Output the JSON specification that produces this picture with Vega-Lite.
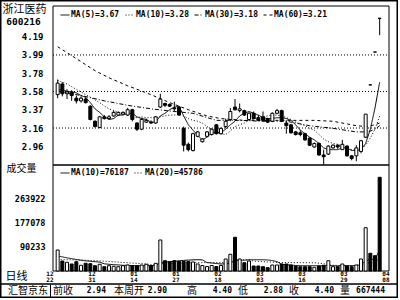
{
  "$schema": "https://vega.github.io/schema/vega-lite/v6.json",
  "width": 398,
  "height": 298,
  "autosize": "none",
  "padding": 0,
  "background": "white",
  "config": {
    "view": {"stroke": "black", "strokeWidth": 3},
    "axis": {"labelFont": "DejaVu Sans Mono", "labelFontWeight": "bold", "labelColor": "black", "domainColor": "black", "ticks": false, "tickSize": 0, "grid": false, "titleColor": "black", "titleFont": "Noto Sans CJK SC", "titleFontWeight": "normal"},
    "legend": {"labelFont": "DejaVu Sans Mono", "labelFontWeight": "bold", "labelColor": "black", "padding": 0}
  },
  "datasets": {
    "k": [
      {"i":0,"o":3.54,"h":3.71,"l":3.50,"c":3.67,"v":76700},
      {"i":1,"o":3.66,"h":3.68,"l":3.52,"c":3.55,"v":36500},
      {"i":2,"o":3.55,"h":3.60,"l":3.49,"c":3.57,"v":31800},
      {"i":3,"o":3.57,"h":3.59,"l":3.47,"c":3.53,"v":25600},
      {"i":4,"o":3.50,"h":3.53,"l":3.44,"c":3.47,"v":34000},
      {"i":5,"o":3.47,"h":3.52,"l":3.45,"c":3.50,"v":20800},
      {"i":6,"o":3.49,"h":3.51,"l":3.44,"c":3.45,"v":28100},
      {"i":7,"o":3.41,"h":3.42,"l":3.25,"c":3.26,"v":26700},
      {"i":8,"o":3.24,"h":3.25,"l":3.17,"c":3.18,"v":19400},
      {"i":9,"o":3.17,"h":3.30,"l":3.16,"c":3.29,"v":24500},
      {"i":10,"o":3.29,"h":3.31,"l":3.26,"c":3.27,"v":15700},
      {"i":11,"o":3.27,"h":3.31,"l":3.26,"c":3.29,"v":19400},
      {"i":12,"o":3.30,"h":3.36,"l":3.29,"c":3.34,"v":17200},
      {"i":13,"o":3.31,"h":3.35,"l":3.30,"c":3.34,"v":15700},
      {"i":14,"o":3.32,"h":3.35,"l":3.31,"c":3.34,"v":19400},
      {"i":15,"o":3.31,"h":3.39,"l":3.30,"c":3.37,"v":21900},
      {"i":16,"o":3.37,"h":3.38,"l":3.24,"c":3.26,"v":19400},
      {"i":17,"o":3.22,"h":3.23,"l":3.13,"c":3.15,"v":19400},
      {"i":18,"o":3.15,"h":3.28,"l":3.14,"c":3.26,"v":21900},
      {"i":19,"o":3.23,"h":3.27,"l":3.22,"c":3.25,"v":24500},
      {"i":20,"o":3.23,"h":3.25,"l":3.21,"c":3.22,"v":19400},
      {"i":21,"o":3.22,"h":3.30,"l":3.21,"c":3.29,"v":28100},
      {"i":22,"o":3.40,"h":3.55,"l":3.39,"c":3.49,"v":113300},
      {"i":23,"o":3.44,"h":3.45,"l":3.40,"c":3.42,"v":37600},
      {"i":24,"o":3.43,"h":3.44,"l":3.40,"c":3.41,"v":34000},
      {"i":25,"o":3.39,"h":3.46,"l":3.35,"c":3.38,"v":37600},
      {"i":26,"o":3.40,"h":3.41,"l":3.30,"c":3.31,"v":34700},
      {"i":27,"o":3.16,"h":3.18,"l":2.90,"c":2.97,"v":34700},
      {"i":28,"o":2.98,"h":3.00,"l":2.90,"c":2.92,"v":34700},
      {"i":29,"o":2.91,"h":3.11,"l":2.90,"c":3.10,"v":32900},
      {"i":30,"o":3.07,"h":3.13,"l":3.06,"c":3.12,"v":25600},
      {"i":31,"o":3.01,"h":3.05,"l":3.00,"c":3.04,"v":20100},
      {"i":32,"o":3.07,"h":3.13,"l":3.06,"c":3.12,"v":16400},
      {"i":33,"o":3.09,"h":3.16,"l":3.08,"c":3.15,"v":20100},
      {"i":34,"o":3.20,"h":3.21,"l":3.09,"c":3.10,"v":16400},
      {"i":35,"o":3.10,"h":3.17,"l":3.09,"c":3.16,"v":20100},
      {"i":36,"o":3.18,"h":3.27,"l":3.16,"c":3.24,"v":43800},
      {"i":37,"o":3.26,"h":3.39,"l":3.24,"c":3.35,"v":61000},
      {"i":38,"o":3.40,"h":3.49,"l":3.36,"c":3.37,"v":123100},
      {"i":39,"o":3.36,"h":3.44,"l":3.34,"c":3.38,"v":43800},
      {"i":40,"o":3.36,"h":3.37,"l":3.30,"c":3.31,"v":30300},
      {"i":41,"o":3.26,"h":3.34,"l":3.25,"c":3.33,"v":36500},
      {"i":42,"o":3.33,"h":3.35,"l":3.26,"c":3.27,"v":18300},
      {"i":43,"o":3.28,"h":3.31,"l":3.24,"c":3.25,"v":18300},
      {"i":44,"o":3.29,"h":3.35,"l":3.24,"c":3.25,"v":15700},
      {"i":45,"o":3.27,"h":3.28,"l":3.22,"c":3.23,"v":12100},
      {"i":46,"o":3.24,"h":3.34,"l":3.23,"c":3.33,"v":21900},
      {"i":47,"o":3.33,"h":3.38,"l":3.32,"c":3.36,"v":21900},
      {"i":48,"o":3.36,"h":3.37,"l":3.23,"c":3.24,"v":25600},
      {"i":49,"o":3.22,"h":3.25,"l":3.10,"c":3.19,"v":25600},
      {"i":50,"o":3.20,"h":3.21,"l":3.10,"c":3.11,"v":21900},
      {"i":51,"o":3.12,"h":3.13,"l":3.08,"c":3.09,"v":18300},
      {"i":52,"o":3.11,"h":3.14,"l":3.07,"c":3.09,"v":15700},
      {"i":53,"o":3.10,"h":3.11,"l":3.02,"c":3.03,"v":15700},
      {"i":54,"o":3.05,"h":3.06,"l":2.96,"c":2.97,"v":15700},
      {"i":55,"o":2.95,"h":3.00,"l":2.94,"c":2.99,"v":13500},
      {"i":56,"o":2.99,"h":3.00,"l":2.85,"c":2.86,"v":18300},
      {"i":57,"o":2.86,"h":2.92,"l":2.75,"c":2.84,"v":20800},
      {"i":58,"o":2.87,"h":2.97,"l":2.86,"c":2.96,"v":37600},
      {"i":59,"o":2.94,"h":2.98,"l":2.93,"c":2.97,"v":15700},
      {"i":60,"o":2.97,"h":2.98,"l":2.93,"c":2.95,"v":15700},
      {"i":61,"o":2.92,"h":3.03,"l":2.92,"c":2.98,"v":25600},
      {"i":62,"o":2.96,"h":2.97,"l":2.84,"c":2.85,"v":18300},
      {"i":63,"o":2.85,"h":2.86,"l":2.80,"c":2.82,"v":15700},
      {"i":64,"o":2.85,"h":2.97,"l":2.79,"c":2.94,"v":21900},
      {"i":65,"o":2.90,"h":3.03,"l":2.88,"c":3.02,"v":43800},
      {"i":66,"o":3.06,"h":3.32,"l":3.05,"c":3.32,"v":158200},
      {"i":67,"o":3.65,"h":3.65,"l":3.65,"c":3.65,"v":64700},
      {"i":68,"o":4.02,"h":4.02,"l":4.02,"c":4.02,"v":55900},
      {"i":69,"o":4.40,"h":4.40,"l":4.21,"c":4.40,"v":342400}
    ],
    "ma": [
      {"i":0,"s":"MA5","v":3.60},{"i":1,"s":"MA5","v":3.59},{"i":2,"s":"MA5","v":3.58},{"i":3,"s":"MA5","v":3.57},{"i":4,"s":"MA5","v":3.56},
      {"i":5,"s":"MA5","v":3.53},{"i":6,"s":"MA5","v":3.51},{"i":7,"s":"MA5","v":3.45},{"i":8,"s":"MA5","v":3.38},{"i":9,"s":"MA5","v":3.34},
      {"i":10,"s":"MA5","v":3.29},{"i":11,"s":"MA5","v":3.26},{"i":12,"s":"MA5","v":3.27},{"i":13,"s":"MA5","v":3.31},{"i":14,"s":"MA5","v":3.31},
      {"i":15,"s":"MA5","v":3.33},{"i":16,"s":"MA5","v":3.33},{"i":17,"s":"MA5","v":3.29},{"i":18,"s":"MA5","v":3.27},{"i":19,"s":"MA5","v":3.26},
      {"i":20,"s":"MA5","v":3.23},{"i":21,"s":"MA5","v":3.23},{"i":22,"s":"MA5","v":3.30},{"i":23,"s":"MA5","v":3.33},{"i":24,"s":"MA5","v":3.37},
      {"i":25,"s":"MA5","v":3.40},{"i":26,"s":"MA5","v":3.41},{"i":27,"s":"MA5","v":3.30},{"i":28,"s":"MA5","v":3.20},{"i":29,"s":"MA5","v":3.14},
      {"i":30,"s":"MA5","v":3.08},{"i":31,"s":"MA5","v":3.03},{"i":32,"s":"MA5","v":3.06},{"i":33,"s":"MA5","v":3.11},{"i":34,"s":"MA5","v":3.11},
      {"i":35,"s":"MA5","v":3.11},{"i":36,"s":"MA5","v":3.15},{"i":37,"s":"MA5","v":3.20},{"i":38,"s":"MA5","v":3.24},{"i":39,"s":"MA5","v":3.30},
      {"i":40,"s":"MA5","v":3.33},{"i":41,"s":"MA5","v":3.35},{"i":42,"s":"MA5","v":3.33},{"i":43,"s":"MA5","v":3.31},{"i":44,"s":"MA5","v":3.28},
      {"i":45,"s":"MA5","v":3.27},{"i":46,"s":"MA5","v":3.27},{"i":47,"s":"MA5","v":3.28},{"i":48,"s":"MA5","v":3.28},{"i":49,"s":"MA5","v":3.27},
      {"i":50,"s":"MA5","v":3.25},{"i":51,"s":"MA5","v":3.20},{"i":52,"s":"MA5","v":3.14},{"i":53,"s":"MA5","v":3.10},{"i":54,"s":"MA5","v":3.06},
      {"i":55,"s":"MA5","v":3.03},{"i":56,"s":"MA5","v":2.99},{"i":57,"s":"MA5","v":2.94},{"i":58,"s":"MA5","v":2.92},{"i":59,"s":"MA5","v":2.92},
      {"i":60,"s":"MA5","v":2.92},{"i":61,"s":"MA5","v":2.94},{"i":62,"s":"MA5","v":2.94},{"i":63,"s":"MA5","v":2.91},{"i":64,"s":"MA5","v":2.91},
      {"i":65,"s":"MA5","v":2.92},{"i":66,"s":"MA5","v":2.99},{"i":67,"s":"MA5","v":3.15},{"i":68,"s":"MA5","v":3.39},{"i":69,"s":"MA5","v":3.68},
      {"i":0,"s":"MA10","v":3.70},{"i":1,"s":"MA10","v":3.68},{"i":2,"s":"MA10","v":3.66},{"i":3,"s":"MA10","v":3.63},{"i":4,"s":"MA10","v":3.60},
      {"i":5,"s":"MA10","v":3.57},{"i":6,"s":"MA10","v":3.54},{"i":7,"s":"MA10","v":3.51},{"i":8,"s":"MA10","v":3.48},{"i":9,"s":"MA10","v":3.45},
      {"i":10,"s":"MA10","v":3.41},{"i":11,"s":"MA10","v":3.38},{"i":12,"s":"MA10","v":3.36},{"i":13,"s":"MA10","v":3.34},{"i":14,"s":"MA10","v":3.32},
      {"i":15,"s":"MA10","v":3.31},{"i":16,"s":"MA10","v":3.29},{"i":17,"s":"MA10","v":3.28},{"i":18,"s":"MA10","v":3.29},{"i":19,"s":"MA10","v":3.28},
      {"i":20,"s":"MA10","v":3.28},{"i":21,"s":"MA10","v":3.28},{"i":22,"s":"MA10","v":3.29},{"i":23,"s":"MA10","v":3.30},{"i":24,"s":"MA10","v":3.31},
      {"i":25,"s":"MA10","v":3.31},{"i":26,"s":"MA10","v":3.32},{"i":27,"s":"MA10","v":3.30},{"i":28,"s":"MA10","v":3.27},{"i":29,"s":"MA10","v":3.25},
      {"i":30,"s":"MA10","v":3.24},{"i":31,"s":"MA10","v":3.22},{"i":32,"s":"MA10","v":3.18},{"i":33,"s":"MA10","v":3.15},{"i":34,"s":"MA10","v":3.12},
      {"i":35,"s":"MA10","v":3.10},{"i":36,"s":"MA10","v":3.09},{"i":37,"s":"MA10","v":3.13},{"i":38,"s":"MA10","v":3.18},{"i":39,"s":"MA10","v":3.20},
      {"i":40,"s":"MA10","v":3.22},{"i":41,"s":"MA10","v":3.25},{"i":42,"s":"MA10","v":3.27},{"i":43,"s":"MA10","v":3.28},{"i":44,"s":"MA10","v":3.29},
      {"i":45,"s":"MA10","v":3.30},{"i":46,"s":"MA10","v":3.31},{"i":47,"s":"MA10","v":3.31},{"i":48,"s":"MA10","v":3.30},{"i":49,"s":"MA10","v":3.28},
      {"i":50,"s":"MA10","v":3.26},{"i":51,"s":"MA10","v":3.23},{"i":52,"s":"MA10","v":3.21},{"i":53,"s":"MA10","v":3.19},{"i":54,"s":"MA10","v":3.16},
      {"i":55,"s":"MA10","v":3.14},{"i":56,"s":"MA10","v":3.09},{"i":57,"s":"MA10","v":3.04},{"i":58,"s":"MA10","v":3.01},{"i":59,"s":"MA10","v":2.99},
      {"i":60,"s":"MA10","v":2.98},{"i":61,"s":"MA10","v":2.96},{"i":62,"s":"MA10","v":2.94},{"i":63,"s":"MA10","v":2.92},{"i":64,"s":"MA10","v":2.92},
      {"i":65,"s":"MA10","v":2.92},{"i":66,"s":"MA10","v":2.97},{"i":67,"s":"MA10","v":3.05},{"i":68,"s":"MA10","v":3.15},{"i":69,"s":"MA10","v":3.30},
      {"i":0,"s":"MA30","v":3.58},{"i":5,"s":"MA30","v":3.53},{"i":10,"s":"MA30","v":3.47},{"i":15,"s":"MA30","v":3.42},{"i":20,"s":"MA30","v":3.38},
      {"i":25,"s":"MA30","v":3.35},{"i":29,"s":"MA30","v":3.33},{"i":34,"s":"MA30","v":3.25},{"i":39,"s":"MA30","v":3.25},{"i":44,"s":"MA30","v":3.24},
      {"i":49,"s":"MA30","v":3.24},{"i":54,"s":"MA30","v":3.19},{"i":59,"s":"MA30","v":3.16},{"i":64,"s":"MA30","v":3.12},{"i":66,"s":"MA30","v":3.12},
      {"i":67,"s":"MA30","v":3.13},{"i":68,"s":"MA30","v":3.15},{"i":69,"s":"MA30","v":3.19},
      {"i":0,"s":"MA60","v":4.08},{"i":3,"s":"MA60","v":3.98},{"i":8,"s":"MA60","v":3.81},{"i":11,"s":"MA60","v":3.73},{"i":15,"s":"MA60","v":3.64},
      {"i":20,"s":"MA60","v":3.54},{"i":24,"s":"MA60","v":3.45},{"i":28,"s":"MA60","v":3.37},{"i":32,"s":"MA60","v":3.30},{"i":35,"s":"MA60","v":3.27},
      {"i":40,"s":"MA60","v":3.25},{"i":45,"s":"MA60","v":3.25},{"i":50,"s":"MA60","v":3.25},{"i":55,"s":"MA60","v":3.25},{"i":59,"s":"MA60","v":3.24},
      {"i":64,"s":"MA60","v":3.19},{"i":66,"s":"MA60","v":3.18},{"i":67,"s":"MA60","v":3.19},{"i":68,"s":"MA60","v":3.20},{"i":69,"s":"MA60","v":3.22}
    ],
    "vma": [
      {"i":0,"s":"MA10","v":55000},{"i":2,"s":"MA10","v":48000},{"i":4,"s":"MA10","v":42000},{"i":6,"s":"MA10","v":37000},{"i":8,"s":"MA10","v":34000},
      {"i":9,"s":"MA10","v":32400},{"i":10,"s":"MA10","v":26300},{"i":11,"s":"MA10","v":24600},{"i":12,"s":"MA10","v":23100},{"i":13,"s":"MA10","v":22200},
      {"i":14,"s":"MA10","v":20700},{"i":15,"s":"MA10","v":20800},{"i":16,"s":"MA10","v":19900},{"i":17,"s":"MA10","v":19200},{"i":18,"s":"MA10","v":19500},
      {"i":19,"s":"MA10","v":19500},{"i":20,"s":"MA10","v":19800},{"i":21,"s":"MA10","v":20700},{"i":22,"s":"MA10","v":30300},{"i":23,"s":"MA10","v":32500},
      {"i":24,"s":"MA10","v":34000},{"i":25,"s":"MA10","v":35500},{"i":26,"s":"MA10","v":37100},{"i":27,"s":"MA10","v":38600},{"i":28,"s":"MA10","v":39900},
      {"i":29,"s":"MA10","v":40700},{"i":30,"s":"MA10","v":41300},{"i":31,"s":"MA10","v":40500},{"i":32,"s":"MA10","v":30800},{"i":33,"s":"MA10","v":29100},
      {"i":34,"s":"MA10","v":27300},{"i":35,"s":"MA10","v":25600},{"i":36,"s":"MA10","v":26500},{"i":37,"s":"MA10","v":29100},{"i":38,"s":"MA10","v":38000},
      {"i":39,"s":"MA10","v":39000},{"i":40,"s":"MA10","v":39500},{"i":41,"s":"MA10","v":41200},{"i":42,"s":"MA10","v":41300},{"i":43,"s":"MA10","v":41200},
      {"i":44,"s":"MA10","v":41100},{"i":45,"s":"MA10","v":40300},{"i":46,"s":"MA10","v":38100},{"i":47,"s":"MA10","v":34200},{"i":48,"s":"MA10","v":24400},
      {"i":49,"s":"MA10","v":22600},{"i":50,"s":"MA10","v":21800},{"i":51,"s":"MA10","v":20000},{"i":52,"s":"MA10","v":19700},{"i":53,"s":"MA10","v":19400},
      {"i":54,"s":"MA10","v":19400},{"i":55,"s":"MA10","v":19600},{"i":56,"s":"MA10","v":19200},{"i":57,"s":"MA10","v":19100},{"i":58,"s":"MA10","v":20300},
      {"i":59,"s":"MA10","v":19300},{"i":60,"s":"MA10","v":18700},{"i":61,"s":"MA10","v":19400},{"i":62,"s":"MA10","v":19700},{"i":63,"s":"MA10","v":19700},
      {"i":64,"s":"MA10","v":20300},{"i":65,"s":"MA10","v":23300},{"i":66,"s":"MA10","v":37300},{"i":67,"s":"MA10","v":41700},{"i":68,"s":"MA10","v":43600},
      {"i":69,"s":"MA10","v":76200},
      {"i":0,"s":"MA20","v":42000},{"i":5,"s":"MA20","v":40000},{"i":10,"s":"MA20","v":36000},{"i":15,"s":"MA20","v":30000},{"i":19,"s":"MA20","v":26000},
      {"i":20,"s":"MA20","v":23100},{"i":21,"s":"MA20","v":22700},{"i":22,"s":"MA20","v":26700},{"i":23,"s":"MA20","v":27400},{"i":24,"s":"MA20","v":27400},
      {"i":25,"s":"MA20","v":28200},{"i":26,"s":"MA20","v":28500},{"i":27,"s":"MA20","v":28900},{"i":28,"s":"MA20","v":29700},{"i":29,"s":"MA20","v":30100},
      {"i":30,"s":"MA20","v":30600},{"i":31,"s":"MA20","v":30600},{"i":32,"s":"MA20","v":30600},{"i":33,"s":"MA20","v":30800},{"i":34,"s":"MA20","v":30700},
      {"i":35,"s":"MA20","v":30600},{"i":36,"s":"MA20","v":31800},{"i":37,"s":"MA20","v":33900},{"i":38,"s":"MA20","v":39000},{"i":39,"s":"MA20","v":39900},
      {"i":40,"s":"MA20","v":40400},{"i":41,"s":"MA20","v":40900},{"i":42,"s":"MA20","v":36100},{"i":43,"s":"MA20","v":35200},{"i":44,"s":"MA20","v":34200},
      {"i":45,"s":"MA20","v":33000},{"i":46,"s":"MA20","v":32300},{"i":47,"s":"MA20","v":31700},{"i":48,"s":"MA20","v":31200},{"i":49,"s":"MA20","v":30800},
      {"i":50,"s":"MA20","v":30700},{"i":51,"s":"MA20","v":30600},{"i":52,"s":"MA20","v":30500},{"i":53,"s":"MA20","v":30300},{"i":54,"s":"MA20","v":30300},
      {"i":55,"s":"MA20","v":30000},{"i":56,"s":"MA20","v":28700},{"i":57,"s":"MA20","v":26700},{"i":58,"s":"MA20","v":22400},{"i":59,"s":"MA20","v":21000},
      {"i":60,"s":"MA20","v":20300},{"i":61,"s":"MA20","v":19700},{"i":62,"s":"MA20","v":19700},{"i":63,"s":"MA20","v":19600},{"i":64,"s":"MA20","v":19900},
      {"i":65,"s":"MA20","v":21500},{"i":66,"s":"MA20","v":28300},{"i":67,"s":"MA20","v":30400},{"i":68,"s":"MA20","v":32000},{"i":69,"s":"MA20","v":45800}
    ],
    "grid": [{"g":3.1638},{"g":3.5754},{"g":3.987}],
    "footer": [
      {"period":"本周","item":"前收","value":"2.94"},
      {"period":"本周","item":"本周开","value":"2.90"},
      {"period":"本周","item":"高","value":"4.40"},
      {"period":"本周","item":"低","value":"2.88"},
      {"period":"本周","item":"收","value":"4.40"},
      {"period":"本周","item":"量","value":"667444"}
    ]
  },
  "layer": [
    {
      "layer": [
        {
          "data": {"values": [{}]},
          "mark": {"type": "rect", "fill": "transparent", "stroke": "black", "strokeWidth": 1},
          "encoding": {
            "x": {"datum": -1, "type": "quantitative", "scale": {"domain": [-1, 71], "range": [48, 394], "nice": false, "zero": false},
                  "axis": {"orient": "top", "labels": false, "domain": false, "ticks": false, "grid": false, "title": "600216", "titleX": 23, "titleY": 21, "titleAlign": "center", "titleBaseline": "middle", "titleFont": "DejaVu Sans Mono", "titleFontWeight": "bold", "titleFontSize": 9.5, "titleAngle": 0}},
            "x2": {"datum": 71},
            "y": {"datum": 2.747, "type": "quantitative", "scale": {"domain": [2.747, 4.539], "range": [165, 6], "nice": false, "zero": false},
                  "axis": {"orient": "left", "offset": -48, "values": [2.958, 3.1638, 3.3696, 3.5754, 3.7812, 3.987, 4.1928], "format": ".2f", "labelFontSize": 9, "labelPadding": 5, "domain": false, "ticks": false, "grid": false,
                           "title": "浙江医药", "titleAngle": 0, "titleX": -24, "titleY": 9, "titleAlign": "center", "titleBaseline": "middle", "titleFontSize": 11}},
            "y2": {"datum": 4.539}
          }
        },
        {
          "data": {"name": "grid"},
          "mark": {"type": "rule", "color": "black", "strokeWidth": 1, "strokeDash": [1, 2]},
          "encoding": {
            "x": {"datum": -1, "type": "quantitative", "scale": {"domain": [-1, 71], "range": [48, 394], "nice": false, "zero": false},
                  "axis": {"orient": "top", "labels": false, "domain": false, "ticks": false, "grid": false, "title": "600216", "titleX": 23, "titleY": 21, "titleAlign": "center", "titleBaseline": "middle", "titleFont": "DejaVu Sans Mono", "titleFontWeight": "bold", "titleFontSize": 9.5, "titleAngle": 0}},
            "x2": {"datum": 71},
            "y": {"field": "g", "type": "quantitative", "scale": {"domain": [2.747, 4.539], "range": [165, 6], "nice": false, "zero": false},
                  "axis": {"orient": "left", "offset": -48, "values": [2.958, 3.1638, 3.3696, 3.5754, 3.7812, 3.987, 4.1928], "format": ".2f", "labelFontSize": 9, "labelPadding": 5, "domain": false, "ticks": false, "grid": false,
                           "title": "浙江医药", "titleAngle": 0, "titleX": -24, "titleY": 9, "titleAlign": "center", "titleBaseline": "middle", "titleFontSize": 11}}
          }
        },
        {
          "data": {"name": "ma"},
          "mark": {"type": "line", "color": "black", "strokeWidth": 1},
          "encoding": {
            "x": {"field": "i", "type": "quantitative", "scale": {"domain": [-1, 71], "range": [48, 394], "nice": false, "zero": false},
                  "axis": {"orient": "top", "labels": false, "domain": false, "ticks": false, "grid": false, "title": "600216", "titleX": 23, "titleY": 21, "titleAlign": "center", "titleBaseline": "middle", "titleFont": "DejaVu Sans Mono", "titleFontWeight": "bold", "titleFontSize": 9.5, "titleAngle": 0}},
            "y": {"field": "v", "type": "quantitative", "scale": {"domain": [2.747, 4.539], "range": [165, 6], "nice": false, "zero": false},
                  "axis": {"orient": "left", "offset": -48, "values": [2.958, 3.1638, 3.3696, 3.5754, 3.7812, 3.987, 4.1928], "format": ".2f", "labelFontSize": 9, "labelPadding": 5, "domain": false, "ticks": false, "grid": false,
                           "title": "浙江医药", "titleAngle": 0, "titleX": -24, "titleY": 9, "titleAlign": "center", "titleBaseline": "middle", "titleFontSize": 11}},
            "strokeDash": {"field": "s", "type": "nominal",
              "scale": {"domain": ["MA5", "MA10", "MA30", "MA60"], "range": [[1, 0], [1, 2], [4, 2, 1, 2], [3, 3]]},
              "legend": {"orient": "none", "legendX": 60, "legendY": 10, "direction": "horizontal", "title": null, "symbolType": "stroke", "symbolStrokeColor": "black", "symbolStrokeWidth": 1, "symbolSize": 81, "labelFontSize": 8, "labelOffset": 1, "columnPadding": 3, "padding": 0,
                "labelExpr": "datum.label == 'MA5' ? 'MA(5)=3.67' : datum.label == 'MA10' ? 'MA(10)=3.28' : datum.label == 'MA30' ? 'MA(30)=3.18' : 'MA(60)=3.21'"}}
          }
        },
        {
          "data": {"name": "k"},
          "mark": {"type": "rule", "color": "black", "strokeWidth": 1},
          "encoding": {
            "x": {"field": "i", "type": "quantitative", "scale": {"domain": [-1, 71], "range": [48, 394], "nice": false, "zero": false},
                  "axis": {"orient": "top", "labels": false, "domain": false, "ticks": false, "grid": false, "title": "600216", "titleX": 23, "titleY": 21, "titleAlign": "center", "titleBaseline": "middle", "titleFont": "DejaVu Sans Mono", "titleFontWeight": "bold", "titleFontSize": 9.5, "titleAngle": 0}},
            "y": {"field": "l", "type": "quantitative", "scale": {"domain": [2.747, 4.539], "range": [165, 6], "nice": false, "zero": false},
                  "axis": {"orient": "left", "offset": -48, "values": [2.958, 3.1638, 3.3696, 3.5754, 3.7812, 3.987, 4.1928], "format": ".2f", "labelFontSize": 9, "labelPadding": 5, "domain": false, "ticks": false, "grid": false,
                           "title": "浙江医药", "titleAngle": 0, "titleX": -24, "titleY": 9, "titleAlign": "center", "titleBaseline": "middle", "titleFontSize": 11}},
            "y2": {"field": "h"}
          }
        },
        {
          "data": {"name": "k"},
          "mark": {"type": "bar", "size": 3, "stroke": "black", "strokeWidth": 1, "orient": "vertical"},
          "encoding": {
            "x": {"field": "i", "type": "quantitative", "scale": {"domain": [-1, 71], "range": [48, 394], "nice": false, "zero": false},
                  "axis": {"orient": "top", "labels": false, "domain": false, "ticks": false, "grid": false, "title": "600216", "titleX": 23, "titleY": 21, "titleAlign": "center", "titleBaseline": "middle", "titleFont": "DejaVu Sans Mono", "titleFontWeight": "bold", "titleFontSize": 9.5, "titleAngle": 0}},
            "y": {"field": "o", "type": "quantitative", "scale": {"domain": [2.747, 4.539], "range": [165, 6], "nice": false, "zero": false},
                  "axis": {"orient": "left", "offset": -48, "values": [2.958, 3.1638, 3.3696, 3.5754, 3.7812, 3.987, 4.1928], "format": ".2f", "labelFontSize": 9, "labelPadding": 5, "domain": false, "ticks": false, "grid": false,
                           "title": "浙江医药", "titleAngle": 0, "titleX": -24, "titleY": 9, "titleAlign": "center", "titleBaseline": "middle", "titleFontSize": 11}},
            "y2": {"field": "c"},
            "fill": {"condition": {"test": "datum.c > datum.o", "value": "white"}, "value": "black"}
          }
        }
      ]
    },
    {
      "layer": [
        {
          "data": {"values": [{}]},
          "mark": {"type": "rect", "fill": "transparent", "stroke": "black", "strokeWidth": 1},
          "encoding": {
            "x": {"datum": -1, "type": "quantitative", "scale": {"domain": [-1, 71], "range": [48, 394], "nice": false, "zero": false},
                  "axis": {"orient": "bottom", "offset": -27, "values": [-1, 8, 17, 26, 35, 44, 53, 62, 71],
                           "labelExpr": "[['12','22'],['12','31'],['01','14'],['01','27'],['02','18'],['03','03'],['03','16'],['03','29'],['04','08']][round((datum.value + 1) / 9)]",
                           "labelAlign": "right", "labelBaseline": "top", "labelPadding": -0.5, "labelFontSize": 6, "labelLineHeight": 5.8, "labelOverlap": false, "labelFlush": false, "labelBound": false,
                           "domain": false, "ticks": false, "grid": false,
                           "title": "日线", "titleX": 16, "titleY": 5, "titleAlign": "center", "titleBaseline": "middle", "titleFontSize": 11, "titleAngle": 0}},
            "x2": {"datum": 71},
            "y": {"datum": 0, "type": "quantitative", "scale": {"domain": [0, 387300], "range": [271, 165], "nice": false},
                  "axis": {"orient": "left", "offset": -48, "values": [90233, 177078, 263922], "format": "d", "labelFontSize": 8.5, "labelPadding": 3, "domain": false, "ticks": false, "grid": false,
                           "title": "成交量", "titleAngle": 0, "titleX": -27, "titleY": 168, "titleAlign": "center", "titleBaseline": "middle", "titleFontSize": 10}},
            "y2": {"datum": 387300}
          }
        },
        {
          "data": {"name": "vma"},
          "mark": {"type": "line", "color": "black", "strokeWidth": 1},
          "encoding": {
            "x": {"field": "i", "type": "quantitative", "scale": {"domain": [-1, 71], "range": [48, 394], "nice": false, "zero": false},
                  "axis": {"orient": "bottom", "offset": -27, "values": [-1, 8, 17, 26, 35, 44, 53, 62, 71],
                           "labelExpr": "[['12','22'],['12','31'],['01','14'],['01','27'],['02','18'],['03','03'],['03','16'],['03','29'],['04','08']][round((datum.value + 1) / 9)]",
                           "labelAlign": "right", "labelBaseline": "top", "labelPadding": -0.5, "labelFontSize": 6, "labelLineHeight": 5.8, "labelOverlap": false, "labelFlush": false, "labelBound": false,
                           "domain": false, "ticks": false, "grid": false,
                           "title": "日线", "titleX": 16, "titleY": 5, "titleAlign": "center", "titleBaseline": "middle", "titleFontSize": 11, "titleAngle": 0}},
            "y": {"field": "v", "type": "quantitative", "scale": {"domain": [0, 387300], "range": [271, 165], "nice": false},
                  "axis": {"orient": "left", "offset": -48, "values": [90233, 177078, 263922], "format": "d", "labelFontSize": 8.5, "labelPadding": 3, "domain": false, "ticks": false, "grid": false,
                           "title": "成交量", "titleAngle": 0, "titleX": -27, "titleY": 168, "titleAlign": "center", "titleBaseline": "middle", "titleFontSize": 10}},
            "strokeDash": {"field": "s", "type": "nominal",
              "scale": {"domain": ["MA10", "MA20"], "range": [[1, 0], [1, 2]]},
              "legend": {"orient": "none", "legendX": 60, "legendY": 168, "direction": "horizontal", "title": null, "symbolType": "stroke", "symbolStrokeColor": "black", "symbolStrokeWidth": 1, "symbolSize": 81, "labelFontSize": 8, "labelOffset": 1, "columnPadding": 3, "padding": 0,
                "labelExpr": "datum.label == 'MA10' ? 'MA(10)=76187' : 'MA(20)=45786'"}}
          }
        },
        {
          "data": {"name": "k"},
          "mark": {"type": "bar", "size": 3, "stroke": "black", "strokeWidth": 1, "orient": "vertical"},
          "encoding": {
            "x": {"field": "i", "type": "quantitative", "scale": {"domain": [-1, 71], "range": [48, 394], "nice": false, "zero": false},
                  "axis": {"orient": "bottom", "offset": -27, "values": [-1, 8, 17, 26, 35, 44, 53, 62, 71],
                           "labelExpr": "[['12','22'],['12','31'],['01','14'],['01','27'],['02','18'],['03','03'],['03','16'],['03','29'],['04','08']][round((datum.value + 1) / 9)]",
                           "labelAlign": "right", "labelBaseline": "top", "labelPadding": -0.5, "labelFontSize": 6, "labelLineHeight": 5.8, "labelOverlap": false, "labelFlush": false, "labelBound": false,
                           "domain": false, "ticks": false, "grid": false,
                           "title": "日线", "titleX": 16, "titleY": 5, "titleAlign": "center", "titleBaseline": "middle", "titleFontSize": 11, "titleAngle": 0}},
            "y": {"field": "v", "type": "quantitative", "stack": null, "scale": {"domain": [0, 387300], "range": [271, 165], "nice": false},
                  "axis": {"orient": "left", "offset": -48, "values": [90233, 177078, 263922], "format": "d", "labelFontSize": 8.5, "labelPadding": 3, "domain": false, "ticks": false, "grid": false,
                           "title": "成交量", "titleAngle": 0, "titleX": -27, "titleY": 168, "titleAlign": "center", "titleBaseline": "middle", "titleFontSize": 10}},
            "fill": {"condition": {"test": "datum.c > datum.o", "value": "white"}, "value": "black"}
          }
        }
      ]
    },
    {
      "data": {"name": "footer"},
      "transform": [{"filter": {"field": "item", "oneOf": ["前收", "本周开"]}}],
      "encoding": {
        "y": {"field": "period", "type": "nominal", "scale": {"type": "band", "range": [284, 297], "paddingInner": 0, "paddingOuter": 0},
              "axis": {"orient": "left", "offset": -50, "labels": false, "ticks": false, "domain": true, "grid": false,
                       "title": "汇智京东", "titleAngle": 0, "titleX": -22.5, "titleY": 290.5, "titleAlign": "center", "titleBaseline": "middle", "titleFontSize": 10}}
      },
      "layer": [
        {
          "mark": {"type": "rule", "color": "black", "strokeWidth": 1},
          "encoding": {
            "y": {"field": "period", "type": "nominal", "bandPosition": 0, "scale": {"type": "band", "range": [284, 297], "paddingInner": 0, "paddingOuter": 0},
                  "axis": {"orient": "left", "offset": -50, "labels": false, "ticks": false, "domain": true, "grid": false,
                           "title": "汇智京东", "titleAngle": 0, "titleX": -22.5, "titleY": 290.5, "titleAlign": "center", "titleBaseline": "middle", "titleFontSize": 10}}
          }
        },
        {
          "mark": {"type": "text", "align": "left", "baseline": "middle", "dx": 4, "dy": 0.5, "font": "Noto Sans CJK SC", "fontSize": 10, "color": "black"},
          "encoding": {
            "x": {"field": "item", "type": "nominal", "sort": null, "bandPosition": 0,
                  "scale": {"type": "band", "range": [49, 171], "paddingInner": 0, "paddingOuter": 0}, "axis": null},
            "text": {"field": "item"}
          }
        },
        {
          "mark": {"type": "text", "align": "right", "baseline": "middle", "dx": -4, "font": "DejaVu Sans Mono", "fontWeight": "bold", "fontSize": 8, "color": "black"},
          "encoding": {
            "x": {"field": "item", "type": "nominal", "sort": null, "bandPosition": 1,
                  "scale": {"type": "band", "range": [49, 171], "paddingInner": 0, "paddingOuter": 0}, "axis": null},
            "text": {"field": "value"}
          }
        }
      ]
    },
    {
      "data": {"name": "footer"},
      "transform": [{"filter": {"field": "item", "oneOf": ["高", "低", "收", "量"]}}],
      "encoding": {
        "y": {"field": "period", "type": "nominal", "scale": {"type": "band", "range": [284, 297], "paddingInner": 0, "paddingOuter": 0}, "axis": null},
        "x": {"field": "item", "type": "nominal", "sort": null, "scale": {"type": "band", "range": [185, 389], "paddingInner": 0, "paddingOuter": 0}, "axis": null}
      },
      "layer": [
        {
          "mark": {"type": "text", "align": "left", "baseline": "middle", "dx": 2, "dy": 0.5, "font": "Noto Sans CJK SC", "fontSize": 10, "color": "black"},
          "encoding": {
            "x": {"field": "item", "type": "nominal", "sort": null, "bandPosition": 0, "scale": {"type": "band", "range": [185, 389], "paddingInner": 0, "paddingOuter": 0}, "axis": null},
            "text": {"field": "item"}
          }
        },
        {
          "mark": {"type": "text", "align": "right", "baseline": "middle", "dx": -4, "font": "DejaVu Sans Mono", "fontWeight": "bold", "fontSize": 8, "color": "black"},
          "encoding": {
            "x": {"field": "item", "type": "nominal", "sort": null, "bandPosition": 1, "scale": {"type": "band", "range": [185, 389], "paddingInner": 0, "paddingOuter": 0}, "axis": null},
            "text": {"field": "value"}
          }
        }
      ]
    }
  ],
  "resolve": {
    "scale": {"x": "independent", "y": "independent", "strokeDash": "independent"},
    "legend": {"strokeDash": "independent"}
  }
}
